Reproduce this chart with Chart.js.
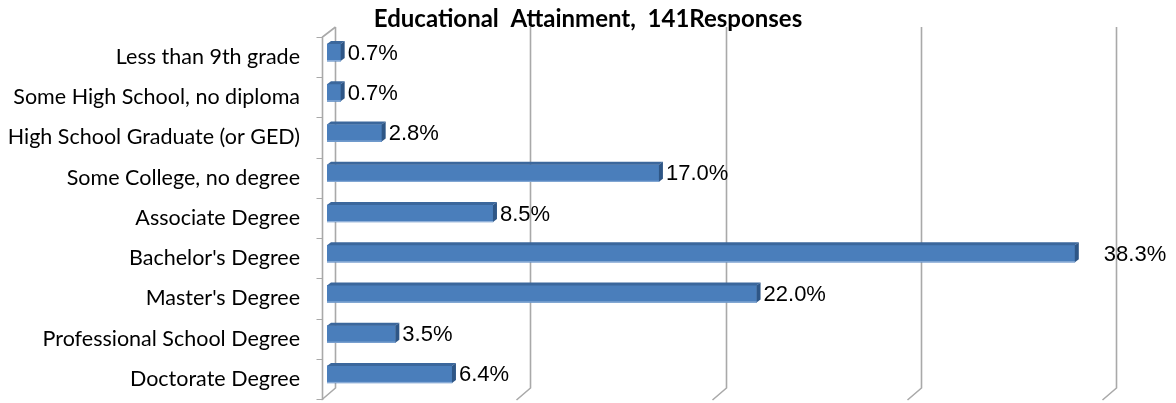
<!DOCTYPE html>
<html>
<head>
<meta charset="utf-8">
<script src="https://cdn.jsdelivr.net/npm/chart.js@4.4.1/dist/chart.umd.min.js"></script>
<style>
  html, body { margin: 0; padding: 0; background: #ffffff; overflow: hidden; }
  #wrap { position: relative; width: 1176px; height: 403px; }
</style>
</head>
<body>
<div id="wrap"><canvas id="c"></canvas></div>
<script>
const titleText = 'Educational  Attainment,  141Responses';
const categories = [
  'Less than 9th grade',
  'Some High School, no diploma',
  'High School Graduate (or GED)',
  'Some College, no degree',
  'Associate Degree',
  "Bachelor's Degree",
  "Master's Degree",
  'Professional School Degree',
  'Doctorate Degree'
];
const percents = [0.7, 0.7, 2.8, 17.0, 8.5, 38.3, 22.0, 3.5, 6.4];
const gridValues = [0, 10, 20, 30, 40];

const DEPTH_X = 4, DEPTH_Y = 3, SHIFT_Y = -4.5;
const WALL_X = 8;

const wallPlugin = {
  id: 'wall',
  beforeDatasetsDraw(chart) {
    const ctx = chart.ctx, xs = chart.scales.x;
    const top = chart.chartArea.top, bottom = chart.chartArea.bottom;
    ctx.save();
    ctx.strokeStyle = '#a9a9a9';
    ctx.lineWidth = 1.6;
    gridValues.forEach(v => {
      const bx = Math.round(xs.getPixelForValue(v) + WALL_X) + 0.5;
      ctx.beginPath();
      ctx.moveTo(bx, top - 10);
      ctx.lineTo(bx, bottom - 11);
      ctx.lineTo(bx - 14, bottom + 1);
      ctx.stroke();
    });
    const fx = xs.left - 4.5;
    ctx.beginPath();
    ctx.moveTo(Math.round(xs.getPixelForValue(0) + WALL_X) + 0.5, top - 10);
    ctx.lineTo(fx, top);
    ctx.lineTo(fx, bottom + 1);
    ctx.stroke();
    ctx.lineWidth = 1;
    for (let i = 0; i <= categories.length; i++) {
      const y = Math.round(top + (bottom - top) * i / categories.length) + 0.5;
      ctx.beginPath();
      ctx.moveTo(fx - 6, y);
      ctx.lineTo(fx, y);
      ctx.stroke();
    }
    ctx.restore();
    ctx.save();
    ctx.translate(0, SHIFT_Y);
  },
  afterDatasetsDraw(chart) {
    const ctx = chart.ctx;
    ctx.restore();
    const meta = chart.getDatasetMeta(0);
    const maxIdx = percents.indexOf(Math.max(...percents));
    ctx.save();
    meta.data.forEach((bar, i) => {
      const x0 = bar.base, x1 = bar.x;
      const h = bar.height;
      const yt = bar.y - h / 2 + SHIFT_Y, yb = bar.y + h / 2 + SHIFT_Y;
      ctx.fillStyle = '#3b679c';
      ctx.beginPath();
      ctx.moveTo(x0, yt);
      ctx.lineTo(x0 + DEPTH_X, yt - DEPTH_Y);
      ctx.lineTo(x1 + DEPTH_X, yt - DEPTH_Y);
      ctx.lineTo(x1, yt);
      ctx.closePath();
      ctx.fill();
      ctx.fillStyle = '#2e5686';
      ctx.beginPath();
      ctx.moveTo(x1, yt);
      ctx.lineTo(x1 + DEPTH_X, yt - DEPTH_Y);
      ctx.lineTo(x1 + DEPTH_X, yb - DEPTH_Y);
      ctx.lineTo(x1, yb);
      ctx.closePath();
      ctx.fill();
      ctx.fillStyle = '#8fb0d9';
      ctx.fillRect(x0, yb - 1, x1 - x0, 1);
      ctx.fillStyle = '#000000';
      ctx.font = '22px "Liberation Sans", Arial, sans-serif';
      ctx.textAlign = 'left';
      ctx.textBaseline = 'middle';
      const gap = i === maxIdx ? 25 : 3;
      ctx.fillText(percents[i].toFixed(1) + '%', x1 + DEPTH_X + gap, (yt + yb) / 2 + 1);
    });
    ctx.restore();
  },
  afterDraw(chart) {
    const ctx = chart.ctx;
    ctx.save();
    ctx.fillStyle = '#000000';
    ctx.font = 'bold 24px Lato, "Liberation Sans", sans-serif';
    ctx.textAlign = 'center';
    ctx.textBaseline = 'middle';
    ctx.fillText(titleText, chart.width / 2, 19);
    ctx.restore();
  }
};

new Chart(document.getElementById('c'), {
  type: 'bar',
  data: {
    labels: categories,
    datasets: [{
      data: percents,
      backgroundColor: '#4a7ebb',
      borderWidth: 0,
      barThickness: 17
    }]
  },
  options: {
    indexAxis: 'y',
    responsive: true,
    maintainAspectRatio: false,
    animation: false,
    layout: { padding: { left: 0, right: 68, top: 37, bottom: 4 } },
    plugins: {
      legend: { display: false },
      tooltip: { enabled: false },
      title: { display: false }
    },
    scales: {
      x: {
        min: 0, max: 40,
        display: false
      },
      y: {
        afterFit(scale) {
          scale.width = 327;
          scale.paddingTop = 0;
          scale.paddingBottom = 0;
        },
        grid: { display: false, drawTicks: false },
        border: { display: false },
        ticks: {
          color: '#000000',
          padding: 27,
          font: { family: 'Lato, "Liberation Sans", sans-serif', size: 21.5 }
        }
      }
    }
  },
  plugins: [wallPlugin]
});
</script>
</body>
</html>
